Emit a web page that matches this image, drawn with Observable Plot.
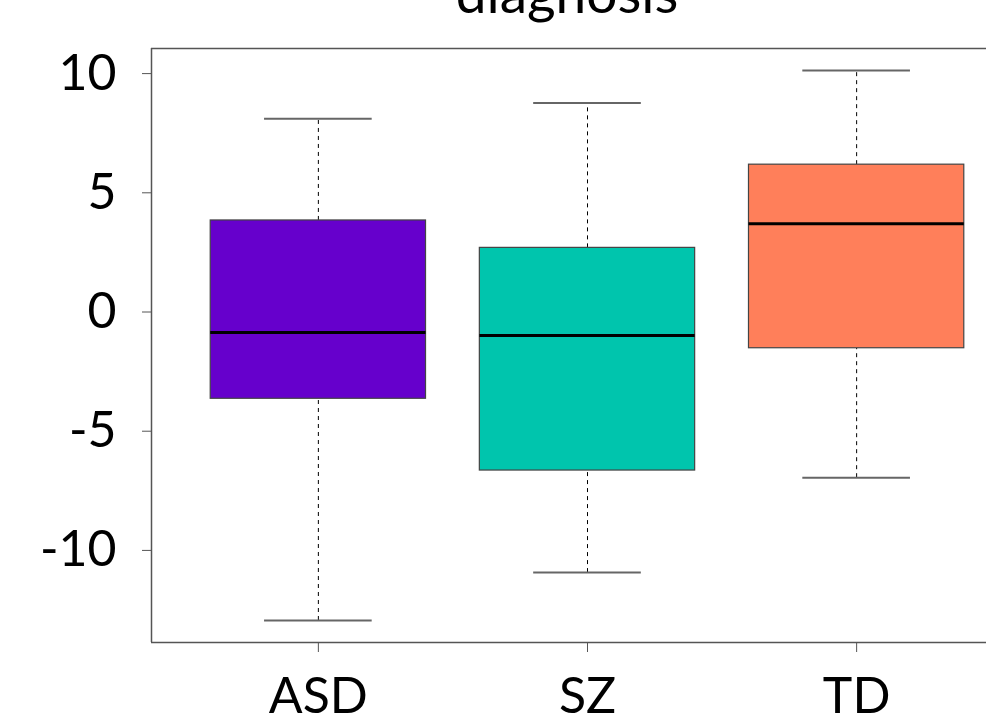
<!DOCTYPE html>
<html>
<head>
<meta charset="utf-8">
<script src="https://cdn.jsdelivr.net/npm/d3@7"></script>
<script src="https://cdn.jsdelivr.net/npm/@observablehq/plot@0.6"></script>
<style>
  html, body { margin: 0; padding: 0; background: #fff; overflow: hidden; }
  #wrap { position: relative; width: 986px; height: 717px; }
  #title { position: absolute; left: 0; width: 1134px; top: -35px; text-align: center;
           font-family: Lato, sans-serif; font-size: 55px; line-height: 1; color: #000; }
  svg { display: block; }
</style>
</head>
<body>
<div id="wrap">
  <div id="title">diagnosis</div>
  <div id="chart"></div>
</div>
<script>
// Data
const categories = ["ASD", "SZ", "TD"];
const lowerWhisker = [-12.94, -10.93, -6.95];
const q1 = [-3.64, -6.65, -1.52];
const median = [-0.86, -0.99, 3.70];
const q3 = [3.84, 2.69, 6.18];
const upperWhisker = [8.11, 8.77, 10.13];
const fills = ["#6600CC", "#00C5AD", "#FF7F5A"];
const yTicks = [-10, -5, 0, 5, 10];

const rows = categories.map((c, i) => ({
  cat: c, pos: i + 1,
  lo: lowerWhisker[i], q1: q1[i], med: median[i], q3: q3[i], hi: upperWhisker[i],
  fill: fills[i]
}));

// R-style axis extension (4%)
const yMin = d3.min(lowerWhisker), yMax = d3.max(upperWhisker);
const yPad = (yMax - yMin) * 0.04;
const yDomain = [yMin - yPad, yMax + yPad];
const n = categories.length;
const xPad = n * 0.04;
const xLo = 0.5 - xPad, xHi = n + 0.5 + xPad;
const W = 986, mL = 151;
const fullInner = 1023 - mL; // full plotting region extends past the window
const xRight = xLo + (xHi - xLo) * (W - mL) / fullInner;

const font = "Lato, sans-serif";

const chart = Plot.plot({
  width: W,
  height: 717,
  marginLeft: mL,
  marginRight: 0,
  marginTop: 48,
  marginBottom: 75,
  style: { fontFamily: font, background: "#fff", overflow: "visible" },
  x: { type: "linear", domain: [xLo, xRight], axis: null, label: null },
  y: { domain: yDomain, axis: null, label: null },
  marks: [
    // frame (left, top, bottom)
    Plot.ruleX([xLo], { stroke: "#555", strokeWidth: 1.5 }),
    Plot.ruleY(yDomain, { stroke: "#555", strokeWidth: 1.5 }),
    // whiskers
    Plot.ruleX(rows, { x: "pos", y1: "q3", y2: "hi", stroke: "#000", strokeWidth: 1, strokeDasharray: "4,4" }),
    Plot.ruleX(rows, { x: "pos", y1: "lo", y2: "q1", stroke: "#000", strokeWidth: 1, strokeDasharray: "4,4" }),
    // caps
    Plot.ruleY(rows, { y: "hi", x1: d => d.pos - 0.2, x2: d => d.pos + 0.2, stroke: "#666", strokeWidth: 2 }),
    Plot.ruleY(rows, { y: "lo", x1: d => d.pos - 0.2, x2: d => d.pos + 0.2, stroke: "#666", strokeWidth: 2 }),
    // boxes
    Plot.rect(rows, { x1: d => d.pos - 0.4, x2: d => d.pos + 0.4, y1: "q1", y2: "q3",
      fill: d => d.fill, stroke: "#444", strokeWidth: 1.2 }),
    // medians
    Plot.ruleY(rows, { y: "med", x1: d => d.pos - 0.4, x2: d => d.pos + 0.4, stroke: "#000", strokeWidth: 3 }),
    // axes
    Plot.axisY({ ticks: yTicks, tickSize: 9, tickPadding: 26, fontSize: 50, stroke: "#555", label: null,
      tickFormat: d => d < 0 ? "-" + Math.abs(d) : String(d), fill: "#000" }),
    Plot.axisX({ ticks: rows.map(d => d.pos), tickSize: 10, tickPadding: 25, fontSize: 50, stroke: "#555", label: null,
      tickFormat: d => categories[d - 1], fill: "#000" })
  ]
});
document.getElementById("chart").appendChild(chart);
</script>
</body>
</html>
